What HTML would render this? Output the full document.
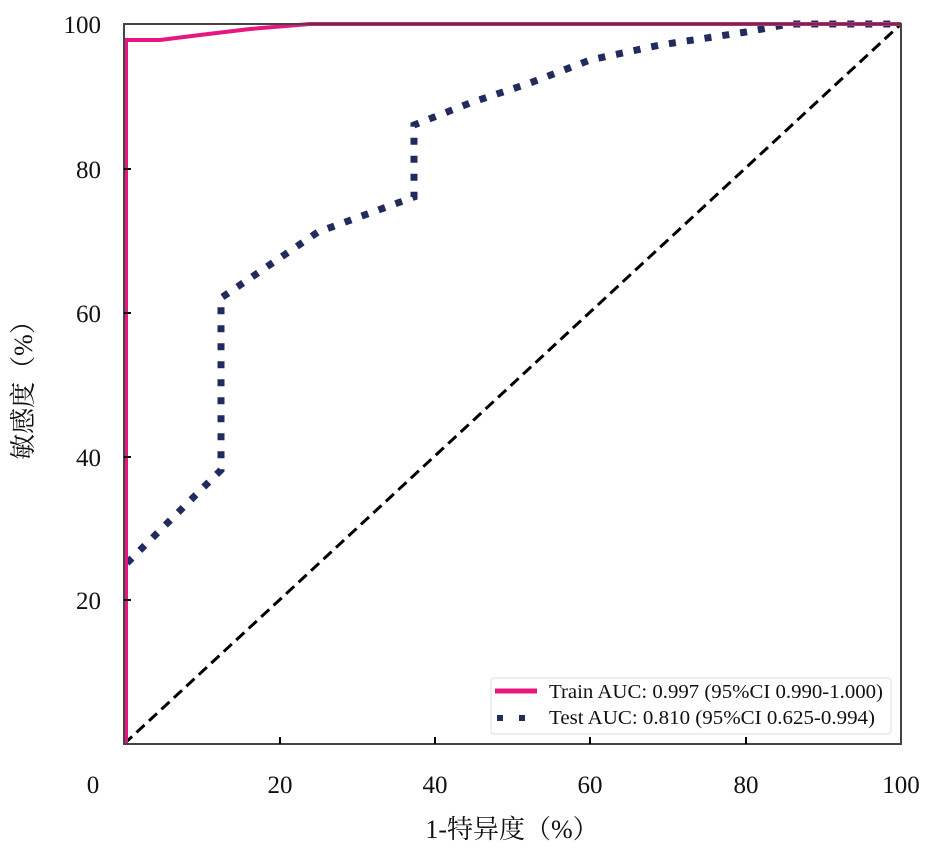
<!DOCTYPE html>
<html><head><meta charset="utf-8"><style>
body{margin:0;background:#fff;}
svg text{font-family:"Liberation Serif","Noto Serif CJK SC",serif;fill:#111;}
</style></head><body>
<svg width="945" height="853" viewBox="0 0 945 853" xmlns="http://www.w3.org/2000/svg">
<rect width="945" height="853" fill="#fff"/>
<line x1="124" y1="744" x2="901" y2="24" stroke="#000" stroke-width="3" stroke-dasharray="11,6"/>
<polyline fill="none" stroke="#222a5e" stroke-width="7" stroke-dasharray="7,11"
 points="127,563 221,470 221,298 318,232 414,197 414,125 470,103 530,83 590,60 660,45 746,32 789,24 901,24"/>
<polyline fill="none" stroke="#e8177f" stroke-width="4"
 points="126,744 126,40 160,40 200,35 250,29 310,24 901,24"/>
<rect x="124" y="24" width="777" height="720" fill="none" stroke="#444" stroke-width="2"/>
<g stroke="#000" stroke-width="2">
<line x1="280" y1="744" x2="280" y2="737"/><line x1="435" y1="744" x2="435" y2="737"/>
<line x1="590" y1="744" x2="590" y2="737"/><line x1="746" y1="744" x2="746" y2="737"/>
<line x1="124" y1="169" x2="131" y2="169"/><line x1="124" y1="313" x2="131" y2="313"/>
<line x1="124" y1="457" x2="131" y2="457"/><line x1="124" y1="600" x2="131" y2="600"/>
</g>
<g font-size="25" text-anchor="middle">
<text x="93" y="793">0</text><text x="280" y="793">20</text><text x="435" y="793">40</text>
<text x="590" y="793">60</text><text x="746" y="793">80</text><text x="901" y="793">100</text>
</g>
<g font-size="25" text-anchor="end">
<text x="101" y="33">100</text><text x="101" y="178">80</text><text x="101" y="322">60</text>
<text x="101" y="466">40</text><text x="101" y="609">20</text>
</g>
<text x="512" y="838" font-size="26" text-anchor="middle">1-特异度（%）</text>
<text transform="translate(32,384) rotate(-90)" font-size="26" text-anchor="middle">敏感度（%）</text>
<rect x="491" y="678" width="400" height="56" fill="#fff" stroke="#ddd" stroke-width="1" rx="3"/>
<line x1="495" y1="691" x2="537" y2="691" stroke="#e8177f" stroke-width="5"/>
<line x1="497" y1="718" x2="537" y2="718" stroke="#222a5e" stroke-width="6" stroke-dasharray="6,16"/>
<text x="549" y="698" font-size="20" textLength="334" lengthAdjust="spacingAndGlyphs">Train AUC: 0.997 (95%CI 0.990-1.000)</text>
<text x="549" y="724" font-size="20" textLength="326" lengthAdjust="spacingAndGlyphs">Test AUC: 0.810 (95%CI 0.625-0.994)</text>
</svg>
</body></html>
